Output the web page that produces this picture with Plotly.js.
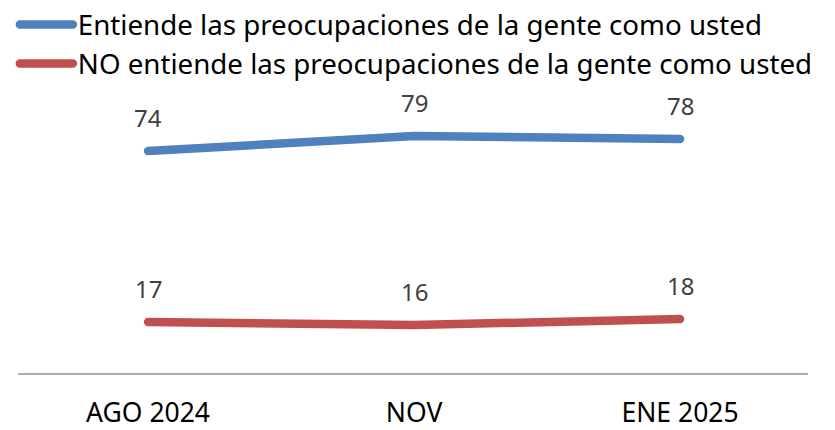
<!DOCTYPE html>
<html>
<head>
<meta charset="utf-8">
<script src="https://cdn.plot.ly/plotly-3.0.1.min.js"></script>
<style>
  html, body { margin: 0; padding: 0; background: #fff; }
  #chart { width: 835px; height: 430px; }
  .scatterlayer .js-line, .legendlines .js-line { stroke-linecap: round !important; stroke-linejoin: round !important; }
</style>
</head>
<body>
<div id="chart"></div>
<script>
const categories = ["AGO 2024", "NOV", "ENE 2025"];
const seriesNames = [
  "Entiende las preocupaciones de la gente como usted",
  "NO entiende las preocupaciones de la gente como usted"
];
const entiende = [74, 79, 78];
const noEntiende = [17, 16, 18];
const colors = ["#4F81BD", "#C0504D"];

const seriesValues = [entiende, noEntiende];
const legendIds = ["legend", "legend2"];

const traces = seriesValues.map((vals, i) => ({
  type: "scatter",
  mode: "lines",
  x: categories,
  y: vals,
  name: seriesNames[i],
  legend: legendIds[i],
  line: { color: colors[i], width: 8.5 },
  hoverinfo: "skip"
}));

const annotations = [];
seriesValues.forEach((vals) => {
  vals.forEach((v, j) => {
    annotations.push({
      x: categories[j], y: v, xref: "x", yref: "y",
      text: String(v), showarrow: false, yshift: 34,
      font: { family: "Noto Sans, sans-serif", size: 24, color: "#404040" }
    });
  });
});

function legendBox(yTop) {
  return {
    xref: "paper", yref: "paper",
    x: -0.004, y: yTop, xanchor: "left", yanchor: "top",
    orientation: "v",
    itemwidth: 53,
    font: { family: "Noto Sans, sans-serif", size: 27.7, color: "#000000" },
    bgcolor: "rgba(0,0,0,0)", borderwidth: 0
  };
}

const layout = {
  width: 835, height: 430,
  margin: { l: 18, r: 27, t: 73, b: 57, autoexpand: false },
  paper_bgcolor: "#ffffff", plot_bgcolor: "#ffffff",
  showlegend: true,
  legend: legendBox(1.2433),
  legend2: legendBox(1.113),
  xaxis: {
    type: "category",
    range: [-0.489, 2.481],
    showgrid: false, zeroline: false,
    showline: true, linecolor: "#ADADAD", linewidth: 1.5,
    ticks: "", ticklabelstandoff: 16,
    tickfont: { family: "Noto Sans, sans-serif", size: 26.5, color: "#000000" },
    fixedrange: true
  },
  yaxis: {
    range: [0, 100], visible: false, showgrid: false, zeroline: false, fixedrange: true
  },
  annotations: annotations
};

Plotly.newPlot("chart", traces, layout, { staticPlot: true, displayModeBar: false });
</script>
</body>
</html>
